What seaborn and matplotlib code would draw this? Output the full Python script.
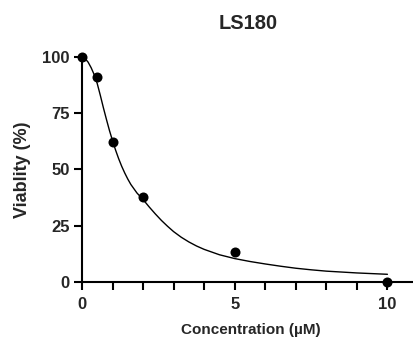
import matplotlib
matplotlib.use("Agg")
import matplotlib.pyplot as plt
import seaborn as sns
from matplotlib.ticker import MultipleLocator

# Measured viability points
conc = [0, 0.5, 1, 2, 5, 10]
viability = [100, 91.0, 62.3, 37.7, 13.2, 0]

# Fitted curve
curve_x = [0, 0.1, 0.2, 0.3, 0.4, 0.5, 0.6, 0.7, 0.8, 0.9, 1.0, 1.1, 1.2, 1.3,
           1.4, 1.5, 1.6, 1.8, 2.0, 2.2, 2.4, 2.6, 2.8, 3.0, 3.25, 3.5, 3.75,
           4.0, 4.5, 5.0, 5.5, 6.0, 6.5, 7.0, 7.5, 8.0, 9.0, 10.0]
curve_y = [100, 99.4, 97.8, 95.3, 92.2, 88.2, 83.0, 77.5, 72.3, 67.3, 62.8, 58.6,
           54.8, 51.4, 48.4, 45.7, 43.3, 39.5, 36.6, 33.3, 30.2, 27.3, 24.7, 22.3,
           19.8, 17.7, 15.9, 14.4, 12.0, 10.3, 9.0, 7.9, 6.9, 6.0, 5.3, 4.7, 3.9, 3.3]

x_ticks = [0, 5, 10]
y_ticks = [0, 25, 50, 75, 100]

sns.set_style("ticks")
plt.rcParams["font.family"] = ["Liberation Sans", "DejaVu Sans"]
plt.rcParams["font.weight"] = "bold"

fig = plt.figure(figsize=(4.14, 3.39), dpi=100)
ax = fig.add_axes([82 / 414, 57.3 / 339, (414 - 82) / 414, 224.5 / 339])

sns.lineplot(x=curve_x, y=curve_y, color="black", linewidth=1.0, ax=ax,
             clip_on=False, sort=False)
sns.scatterplot(x=conc, y=viability, color="black", s=52, edgecolor="black",
                linewidth=0, ax=ax, clip_on=False, zorder=3)

ax.set_xlim(0, 10.87)
ax.set_ylim(0, 100)
ax.set_xticks(x_ticks)
ax.set_yticks(y_ticks)
ax.xaxis.set_minor_locator(MultipleLocator(1))

sns.despine(ax=ax)
for side in ["left", "bottom"]:
    ax.spines[side].set_linewidth(1.5)
    ax.spines[side].set_color("black")

ax.tick_params(axis="both", which="both", direction="out", length=6, width=1.5,
               color="black", labelsize=12)
ax.tick_params(axis="x", pad=5)
ax.tick_params(axis="y", pad=3)

ax.set_xlabel("Concentration (µM)", fontsize=11, fontweight="bold")
ax.xaxis.set_label_coords(0.509, -0.185)
ax.set_ylabel("Viablity (%)", fontsize=13, fontweight="bold")
ax.yaxis.set_label_coords(-0.155, 0.5)

fig.text(248 / 414, 1 - 29 / 339, "LS180", ha="center", va="baseline",
         fontsize=14.5, fontweight="bold")

fig.savefig("out.png", dpi=100)
